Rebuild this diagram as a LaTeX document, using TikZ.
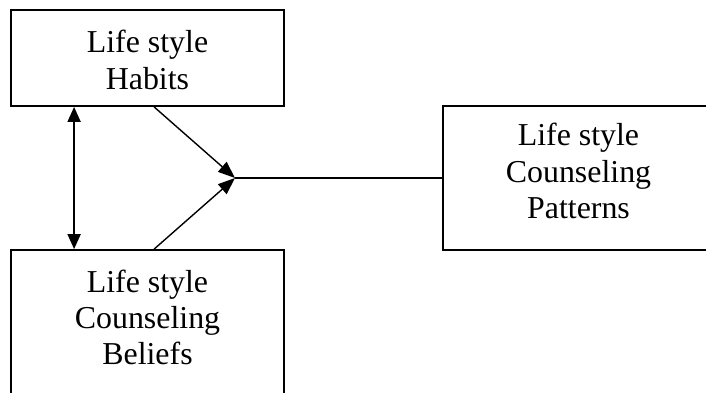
\documentclass[tikz,border=0pt]{standalone}
\usepackage{fontspec}
\setmainfont{Liberation Serif}
\usetikzlibrary{arrows.meta}
\tikzset{
  box/.style={draw=black, line width=1.8bp, rectangle, inner sep=0pt},
  lbl/.style={align=center, inner sep=0pt, anchor=north, font=\fontsize{32}{36.5}\selectfont},
  arr/.style={line width=1.4bp, -{Triangle[length=17bp,width=13bp]}},
  dbl/.style={line width=1.7bp, {Triangle[length=15bp,width=13bp]}-{Triangle[length=15bp,width=13bp]}},
  plain/.style={line width=1.4bp}
}
\begin{document}
\begin{tikzpicture}[x=1bp,y=-1bp]
\clip (0,0) rectangle (706,392);
\fill[white] (0,0) rectangle (706,392);
\node[box, minimum width=273bp, minimum height=96bp] (habits) at (147.5,58) {};
\node[box, minimum width=273bp, minimum height=150bp] (beliefs) at (147.5,325) {};
\node[box, minimum width=271bp, minimum height=144bp] (patterns) at (578.5,178) {};
\node[lbl] (habitsT) at (147.5,30) {Life style\\Habits};
\node[lbl] (beliefsT) at (147.5,269.5) {Life style\\Counseling\\Beliefs};
\node[lbl] (patternsT) at (578.5,123) {Life style\\Counseling\\Patterns};
\coordinate (j) at (235,178);
\draw[dbl] ([xshift=64bp]habits.south west) -- ([xshift=64bp]beliefs.north west);
\draw[arr] ([xshift=144bp]habits.south west) -- (j);
\draw[arr] ([xshift=144bp]beliefs.north west) -- (j);
\draw[plain] (j) -- (patterns.west);
\end{tikzpicture}
\end{document}
